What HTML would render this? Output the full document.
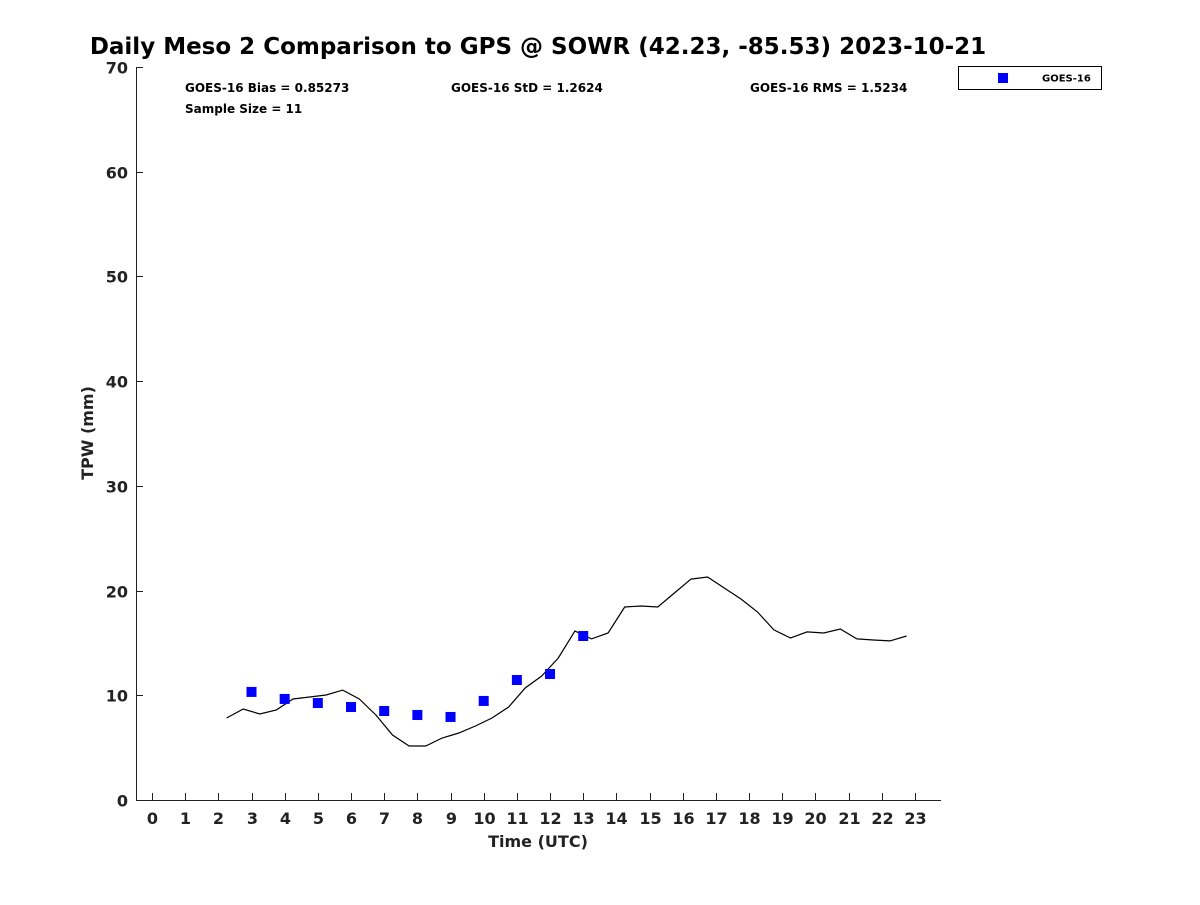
<!DOCTYPE html>
<html><head><meta charset="utf-8"><style>
body{margin:0;background:#fff;}
svg{font-family:"DejaVu Sans","Liberation Sans",sans-serif;}
</style></head><body>
<svg id="chart" width="1200" height="900" viewBox="0 0 1200 900" xmlns="http://www.w3.org/2000/svg">
<text x="538" y="54" text-anchor="middle" font-size="23" font-weight="bold" fill="#000">Daily Meso 2 Comparison to GPS @ SOWR (42.23, -85.53) 2023-10-21</text>
<g id="axes"></g>
<g id="marks"></g>
<text x="185" y="92" font-size="12" font-weight="bold">GOES-16 Bias = 0.85273</text>
<text x="451" y="92" font-size="12" font-weight="bold">GOES-16 StD = 1.2624</text>
<text x="750" y="92" font-size="12" font-weight="bold">GOES-16 RMS = 1.5234</text>
<text x="185" y="113" font-size="12" font-weight="bold">Sample Size = 11</text>
<g>
<rect x="958.5" y="66.5" width="143" height="23" fill="#fff" stroke="#000" stroke-width="1"/>
<rect x="998" y="73" width="10" height="10" fill="#0000ff"/>
<text x="1042" y="81.5" font-size="10" font-weight="bold">GOES-16</text>
</g>
<text x="538" y="847" text-anchor="middle" font-size="16" font-weight="bold" fill="#222">Time (UTC)</text>
<text transform="translate(93,433) rotate(-90)" text-anchor="middle" font-size="16" font-weight="bold" fill="#222">TPW (mm)</text>
</svg>
<script>
const gpsStart = 2.25;
const gpsStep = 0.5;
const gpsValues = [7.83,8.69,8.21,8.6,9.65,9.84,10.03,10.5,9.65,8.12,6.21,5.16,5.16,5.92,6.4,7.07,7.83,8.88,10.7,11.84,13.56,16.14,15.38,15.95,18.43,18.53,18.43,19.77,21.1,21.3,20.25,19.2,17.96,16.24,15.47,16.05,15.95,16.33,15.38,15.28,15.19,15.66];
const goesHours = [3,4,5,6,7,8,9,10,11,12,13];
const goesValues = [10.32,9.65,9.26,8.88,8.5,8.12,7.93,9.46,11.46,12.03,15.66];
const xTicks = [0,1,2,3,4,5,6,7,8,9,10,11,12,13,14,15,16,17,18,19,20,21,22,23];
const yTicks = [0,10,20,30,40,50,60,70];

const NS = "http://www.w3.org/2000/svg";
const xs = h => 152 + h * 33.17;
const ys = v => 800 - v * 10.4714;
function mk(tag, attrs, parent){const e=document.createElementNS(NS,tag);for(const k in attrs)e.setAttribute(k,attrs[k]);parent.appendChild(e);return e;}
const axes = document.getElementById('axes');
const marks = document.getElementById('marks');
let e = mk('line',{x1:136.5,y1:67,x2:136.5,y2:800.5,stroke:'#222','stroke-width':1},axes);


e = mk('line',{x1:136,y1:800.5,x2:941,y2:800.5,stroke:'#222','stroke-width':1},axes);


xTicks.forEach(t=>{
  const x = Math.round(xs(t))+0.5;
  let l = mk('line',{x1:x,y1:793,x2:x,y2:800,stroke:'#222'},axes);
  
  
  let tx = mk('text',{x:x,y:824,'text-anchor':'middle','font-size':16,'font-weight':'bold',fill:'#222'},axes);
  tx.textContent = t;
  
  
});
yTicks.forEach(t=>{
  const y = Math.round(ys(t))+0.5;
  let l = mk('line',{x1:136,y1:y,x2:143,y2:y,stroke:'#222'},axes);
  
  
  let tx = mk('text',{x:128,y:y+6,'text-anchor':'end','font-size':16,'font-weight':'bold',fill:'#222'},axes);
  tx.textContent = t;
  
  
});
const pts = gpsValues.map((v,i)=>xs(gpsStart+i*gpsStep).toFixed(1)+','+ys(v).toFixed(1)).join(' ');
const pl = mk('polyline',{points:pts,fill:'none',stroke:'#000','stroke-width':1.2},marks);


goesValues.forEach((v,i)=>{
  const r = mk('rect',{x:xs(goesHours[i])-5,y:ys(v)-5,width:10,height:10,fill:'#0000ff'},marks);
  
  
});
</script>
</body></html>
